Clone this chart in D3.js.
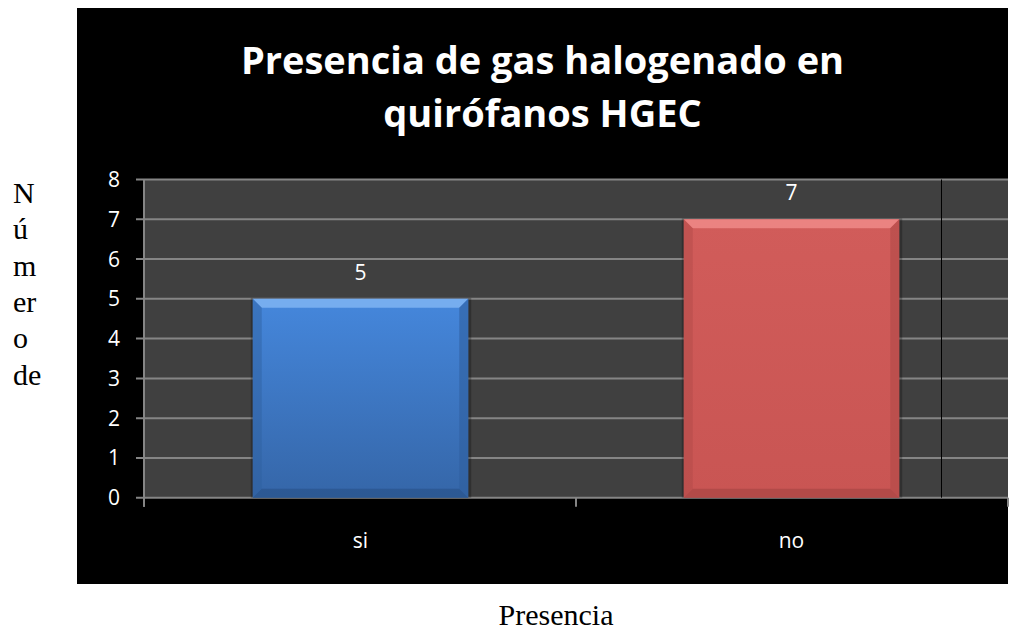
<!DOCTYPE html>
<html>
<head>
<meta charset="utf-8">
<script src="https://cdn.jsdelivr.net/npm/d3@7"></script>
<style>
    body { margin: 0; background: #ffffff; }
    .tickText { font-family: "Open Sans", sans-serif; font-size: 21px; fill: #ffffff; }
    .chartTitle { font-family: "Open Sans", sans-serif; font-weight: bold; font-size: 38px; fill: #ffffff; }
    .axisTitle { font-family: "Liberation Serif", "Times New Roman", serif; font-size: 30px; fill: #000000; }
</style>
</head>
<body>
<div id="chart"></div>
<script>

// chart data
var categories = ["si", "no"];
var counts = [5, 7];
var yTicks = [0, 1, 2, 3, 4, 5, 6, 7, 8];
var titleLines = ["Presencia de gas halogenado en", "quirófanos HGEC"];
var yTitleLines = ["N", "ú", "m", "er", "o", "de"];
var xTitle = "Presencia";

/**
 * Constructor for the bar chart
 */
function GasChart(){
    var self = this;
    self.init();
};

/**
 * Creates the svg and the black chart box
 */
GasChart.prototype.init = function(){
    var self = this;
    self.width = 1026;
    self.height = 631;
    self.box = {left: 77, top: 8, right: 1008, bottom: 584};
    self.plot = {left: 144, top: 179.5, right: 1008, bottom: 497.7};

    self.svg = d3.select("#chart").append("svg")
        .attr("width", self.width)
        .attr("height", self.height);

    self.svg.append("rect")
        .attr("x", self.box.left).attr("y", self.box.top)
        .attr("width", self.box.right - self.box.left)
        .attr("height", self.box.bottom - self.box.top)
        .attr("fill", "#000000");

    self.svg.append("rect")
        .attr("x", self.plot.left).attr("y", self.plot.top)
        .attr("width", self.plot.right - self.plot.left)
        .attr("height", self.plot.bottom - self.plot.top)
        .attr("fill", "#404040");

    //gradients for the bars
    var defs = self.svg.append("defs");
    self.addGradient(defs, "blueFill", "#4587dc", "#3566a8");
    self.addGradient(defs, "redFill", "#d15c5a", "#c95553");
};

GasChart.prototype.addGradient = function(defs, id, top, bottom){
    var g = defs.append("linearGradient").attr("id", id)
        .attr("x1", 0).attr("y1", 0).attr("x2", 0).attr("y2", 1);
    g.append("stop").attr("offset", "0%").attr("stop-color", top);
    g.append("stop").attr("offset", "100%").attr("stop-color", bottom);
};

/**
 * Draws axes, gridlines, bars and labels
 */
GasChart.prototype.update = function(){
    var self = this;
    var p = self.plot;

    var x = d3.scaleBand().domain(categories).range([p.left + 1, p.right - 1]).paddingInner(0.5).paddingOuter(0.25);
    var y = d3.scaleLinear().domain([0, 8]).range([p.bottom, p.top]);

    //gridlines + little ticks on the left
    self.svg.selectAll("line.grid").data(yTicks).enter().append("line")
        .attr("class", "grid")
        .attr("x1", p.left - 8).attr("x2", p.right)
        .attr("y1", function(d){ return y(d); })
        .attr("y2", function(d){ return y(d); })
        .attr("stroke", "#858585").attr("stroke-width", 2);

    //odd black divider inside plot
    self.svg.append("line")
        .attr("x1", 941.5).attr("x2", 941.5)
        .attr("y1", p.top).attr("y2", p.bottom)
        .attr("stroke", "#000000").attr("stroke-width", 1);

    //left axis line
    self.svg.append("line")
        .attr("x1", p.left).attr("x2", p.left)
        .attr("y1", p.top).attr("y2", p.bottom + 9)
        .attr("stroke", "#858585").attr("stroke-width", 2);

    //category ticks on x axis
    var step = (p.right - p.left) / categories.length;
    var catTicks = d3.range(categories.length + 1).map(function(i){ return p.left + i * step; });
    self.svg.selectAll("line.ctick").data(catTicks).enter().append("line")
        .attr("class", "ctick")
        .attr("x1", function(d){ return d; }).attr("x2", function(d){ return d; })
        .attr("y1", p.bottom).attr("y2", p.bottom + 9)
        .attr("stroke", "#858585").attr("stroke-width", 2);

    self.svg.selectAll("text.ytick").data(yTicks).enter().append("text")
        .attr("class", "tickText ytick")
        .attr("x", 120)
        .attr("y", function(d){ return y(d) + 7.5; })
        .attr("text-anchor", "end")
        .text(function(d){ return d; });

    var fills = ["url(#blueFill)", "url(#redFill)"];
    var topEdge = ["#7fb4f2", "#f08a88"];
    var bottomEdge = ["#2a548c", "#a84644"];
    var sideEdge = ["#2f5f9e", "#b04a48"];

    var bars = self.svg.selectAll("g.bar").data(categories).enter().append("g").attr("class", "bar");

    //shadow
    bars.append("rect")
        .attr("x", function(d){ return x(d) - 2; })
        .attr("y", function(d, i){ return y(counts[i]) - 1; })
        .attr("width", x.bandwidth() + 5)
        .attr("height", function(d, i){ return p.bottom - y(counts[i]) + 1; })
        .attr("fill", "#000000").attr("opacity", 0.25);

    bars.append("rect")
        .attr("x", function(d){ return x(d); })
        .attr("y", function(d, i){ return y(counts[i]); })
        .attr("width", x.bandwidth())
        .attr("height", function(d, i){ return p.bottom - y(counts[i]); })
        .attr("fill", function(d, i){ return fills[i]; });

    var bev = 9;
    //top bevel
    bars.append("polygon")
        .attr("points", function(d, i){
            var x0 = x(d), x1 = x(d) + x.bandwidth(), y0 = y(counts[i]);
            return [[x0, y0], [x1, y0], [x1 - bev, y0 + bev], [x0 + bev, y0 + bev]].join(" ");
        })
        .attr("fill", function(d, i){ return topEdge[i]; }).attr("opacity", 0.85);
    //bottom bevel
    bars.append("polygon")
        .attr("points", function(d){
            var x0 = x(d), x1 = x(d) + x.bandwidth(), y0 = p.bottom;
            return [[x0, y0], [x1, y0], [x1 - bev, y0 - bev], [x0 + bev, y0 - bev]].join(" ");
        })
        .attr("fill", function(d, i){ return bottomEdge[i]; }).attr("opacity", 0.7);
    //side bevels
    bars.append("polygon")
        .attr("points", function(d, i){
            var x0 = x(d), y0 = y(counts[i]);
            return [[x0, y0], [x0 + bev, y0 + bev], [x0 + bev, p.bottom - bev], [x0, p.bottom]].join(" ");
        })
        .attr("fill", function(d, i){ return sideEdge[i]; }).attr("opacity", 0.45);
    bars.append("polygon")
        .attr("points", function(d, i){
            var x1 = x(d) + x.bandwidth(), y0 = y(counts[i]);
            return [[x1, y0], [x1 - bev, y0 + bev], [x1 - bev, p.bottom - bev], [x1, p.bottom]].join(" ");
        })
        .attr("fill", function(d, i){ return sideEdge[i]; }).attr("opacity", 0.6);

    //value labels
    bars.append("text")
        .attr("class", "tickText")
        .attr("x", function(d){ return x(d) + x.bandwidth() / 2; })
        .attr("y", function(d, i){ return y(counts[i]) - 19; })
        .attr("text-anchor", "middle")
        .text(function(d, i){ return counts[i]; });

    //category labels
    self.svg.selectAll("text.xlabel").data(categories).enter().append("text")
        .attr("class", "tickText xlabel")
        .attr("x", function(d){ return x(d) + x.bandwidth() / 2; })
        .attr("y", 548)
        .attr("text-anchor", "middle")
        .text(function(d){ return d; });

    //title
    var cx = (self.box.left + self.box.right) / 2;
    self.svg.selectAll("text.chartTitle").data(titleLines).enter().append("text")
        .attr("class", "chartTitle")
        .attr("x", cx)
        .attr("y", function(d, i){ return 74 + i * 53; })
        .attr("text-anchor", "middle")
        .text(function(d){ return d; });

    //axis titles
    self.svg.selectAll("text.ytitle").data(yTitleLines).enter().append("text")
        .attr("class", "axisTitle ytitle")
        .attr("x", 13)
        .attr("y", function(d, i){ return 203 + i * 36.3; })
        .text(function(d){ return d; });

    self.svg.append("text")
        .attr("class", "axisTitle")
        .attr("x", 556).attr("y", 625)
        .attr("text-anchor", "middle")
        .text(xTitle);
};

var chart = new GasChart();
chart.update();
</script>
</body>
</html>
